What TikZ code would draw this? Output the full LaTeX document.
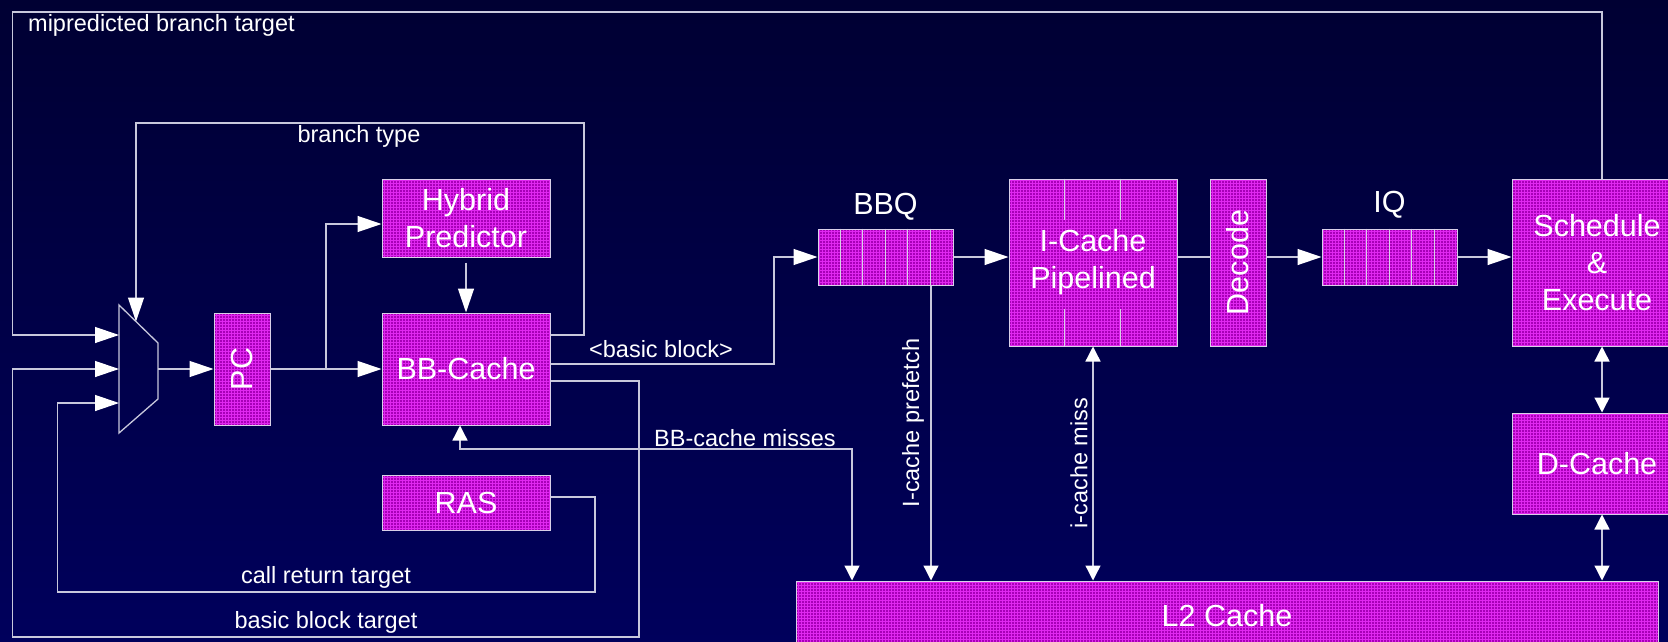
\documentclass[tikz,border=0pt]{standalone}
\usepackage{fontspec}
\setmainfont{Liberation Sans}
\usetikzlibrary{arrows.meta,patterns,calc}
\definecolor{bgtop}{HTML}{000033}
\definecolor{bgbot}{HTML}{00005C}
\definecolor{mag}{HTML}{A800B8}
\definecolor{gridcol}{HTML}{E028F0}
\definecolor{wirecol}{HTML}{C8C8DC}
\definecolor{edgecol}{HTML}{D8D0E8}
\newcommand\bxfont{\fontsize{30.5}{37}\selectfont}
\newcommand\lbfont{\fontsize{23.5}{28}\selectfont}
\begin{document}
\begin{tikzpicture}[x=1pt,y=-1pt,
  box/.style={draw=edgecol, line width=1pt, preaction={fill=mag}, preaction={pattern=grid, pattern color=gridcol}, text=white, inner sep=0pt, font=\bxfont, align=center},
  wire/.style={draw=wirecol, line width=1.3pt},
  big/.style={wire, -{Triangle[length=24pt,width=16pt,color=white]}},
  small/.style={wire, -{Triangle[length=15pt,width=15pt,color=white]}},
  both/.style={wire, {Triangle[length=15pt,width=15pt,color=white]}-{Triangle[length=15pt,width=15pt,color=white]}},
  lbl/.style={text=white, font=\lbfont, inner sep=0pt},
  ttl/.style={text=white, font=\bxfont, inner sep=0pt},
  divider/.style={draw=edgecol, line width=1pt},
]
\useasboundingbox (0,0) rectangle (1668,642);
\clip (0,0) rectangle (1668,642);
\shade[top color=bgtop, bottom color=bgbot] (0,0) rectangle (1668,642);

% multiplexer
\draw[wire] (119,305) -- (158,343) -- (158,399) -- (119,433) -- cycle;
\coordinate (m1) at (119,335);
\coordinate (m2) at (119,369);
\coordinate (m3) at (119,403);
\coordinate (mt) at (136,321.5);
\coordinate (mo) at (158,369);

% boxes
\node[box, minimum width=56pt, minimum height=112pt] (pc) at (242,369) {\rotatebox{90}{PC}};
\node[box, minimum width=168pt, minimum height=78pt] (hyb) at (466,218) {Hybrid\\Predictor};
\node[box, minimum width=168pt, minimum height=112pt] (bbc) at (466,369) {BB-Cache};
\node[box, minimum width=168pt, minimum height=55pt] (ras) at (466,502.5) {RAS};
\node[box, minimum width=135pt, minimum height=56pt] (bbq) at (885.5,257) {};
\node[box, minimum width=168pt, minimum height=167pt] (ic) at (1093,262.5) {I-Cache\\Pipelined};
\node[box, minimum width=56pt, minimum height=167pt] (dec) at (1238,262.5) {\rotatebox{90}{Decode}};
\node[box, minimum width=135pt, minimum height=56pt] (iq) at (1389.5,257) {};
\node[box, minimum width=170pt, minimum height=167pt] (se) at (1597,262.5) {Schedule\\\&\\Execute};
\node[box, minimum width=170pt, minimum height=101pt] (dc) at (1597,463.5) {D-Cache};
\node[box, minimum width=862pt, minimum height=70pt] (l2) at (1227,616) {L2 Cache};

% queue cells and pipeline marks
\foreach \i in {1,...,5} {
  \draw[divider] ($(bbq.north west)+(22.5*\i,0)$) -- ($(bbq.south west)+(22.5*\i,0)$);
  \draw[divider] ($(iq.north west)+(22.5*\i,0)$) -- ($(iq.south west)+(22.5*\i,0)$);
}
\foreach \i in {1,2} {
  \draw[divider] ($(ic.north west)+(56*\i,0)$) -- ($(ic.north west)+(56*\i,41)$);
  \draw[divider] ($(ic.south west)+(56*\i,0)$) -- ($(ic.south west)+(56*\i,-38)$);
}

% titles
\node[ttl] (tbbq) at (885.5,207) {BBQ};
\node[ttl] (tiq) at (1389.5,205) {IQ};

% connectors
\draw[big] ([xshift=5pt]se.north) |- (12.7,12) |- (m1);
\draw[big] ([yshift=-12pt]bbc.east) -| (639,637) -| (12.7,369) -- (m2);
\draw[big] ([yshift=5.5pt]ras.east) -| (595,592) -| (57.7,403) -- (m3);
\draw[big] ([yshift=34pt]bbc.east) -| (584,123) -| (mt);
\draw[big] (mo) -- (pc.west);
\draw[big] (pc.east) -- (bbc.west);
\coordinate (split) at (326,369);
\draw[big] (split) |- ([yshift=-6pt]hyb.west);
\draw[big, shorten <=5pt] (hyb.south) -- (bbc.north);
\coordinate (bbx) at (774,257);
\draw[big] ([yshift=5pt]bbc.east) -| (bbx) -- (bbq.west);
\draw[big] (bbq.east) -- (bbq.east -| ic.west);
\draw[wire] (bbq.east -| ic.east) -- (bbq.east -| dec.west);
\draw[big] (bbq.east -| dec.east) -- (iq.west);
\draw[big] (iq.east) -- (iq.east -| se.west);

\coordinate (bmx) at (852,449);
\draw[both] ([xshift=-6pt]bbc.south) |- (bmx) -- (bmx |- l2.north);
\coordinate (pfx) at ([xshift=45.5pt]bbq.south);
\draw[small] (pfx) -- (pfx |- l2.north);
\draw[both] (ic.south) -- (ic.south |- l2.north);
\draw[both] ([xshift=5pt]se.south) -- ([xshift=5pt]dc.north);
\coordinate (dcx) at ([xshift=5pt]dc.south);
\draw[both] (dcx) -- (dcx |- l2.north);

% labels
\node[lbl, anchor=west] (tmis) at (28,25) {mipredicted branch target};
\node[lbl] (tbt) at (359,136) {branch type};
\node[lbl] (tbb) at (661,349) {<basic block>};
\node[lbl] (tbm) at (745,438) {BB-cache misses};
\node[lbl] (tcr) at (326,577) {call return target};
\node[lbl] (tbbt) at (326,622) {basic block target};
\node[lbl, rotate=90] (tpf) at (913,423) {I-cache prefetch};
\node[lbl, rotate=90] (tim) at (1079,463) {i-cache miss};
\end{tikzpicture}
\end{document}
